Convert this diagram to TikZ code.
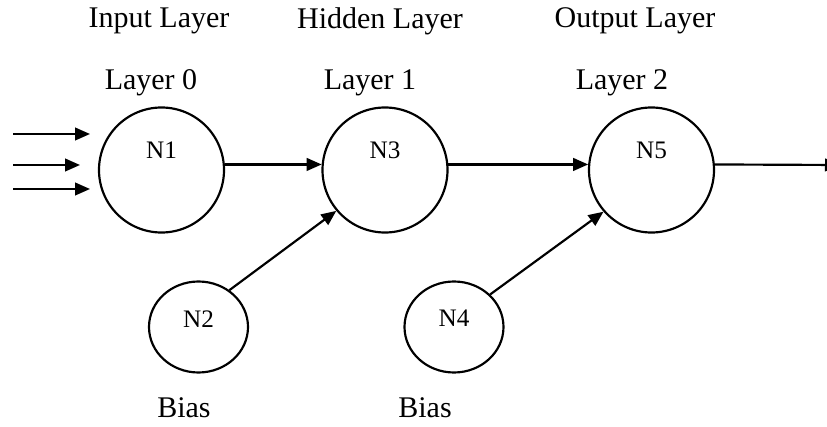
\documentclass[tikz,border=0pt]{standalone}
\usepackage{fontspec}
\setmainfont{Liberation Serif}
\usetikzlibrary{arrows.meta,positioning,shapes.geometric}

\begin{document}
\begin{tikzpicture}
  [
    ->,
    >={Triangle[length=0.45cm,width=0.38cm]},
    line width=0.065cm,
    on grid,
    cell/.style={draw, circle, minimum size=3.75cm, inner sep=0pt},
    bias cell/.style={draw, ellipse, minimum width=2.97cm, minimum height=2.73cm, inner sep=0pt},
    tag/.style={font=\fontsize{21.5}{25}\selectfont},
    heading/.style={font=\fontsize{25.6}{30}\selectfont, inner sep=0pt},
  ]
  \useasboundingbox (0,0) rectangle (24.81,12.78);
  \node [cell, label={[tag, yshift=0.58cm]center:N1}] (N1) at (4.845,7.68) {};
  \node [cell, right=6.705cm of N1, label={[tag, yshift=0.58cm]center:N3}] (N3) {};
  \node [cell, right=7.995cm of N3, label={[tag, yshift=0.58cm]center:N5}] (N5) {};
  \node [bias cell, below right=4.71cm and 1.11cm of N1, label={[tag, yshift=0.25cm]center:N2}] (N2) {};
  \node [bias cell, right=7.665cm of N2, label={[tag, yshift=0.27cm]center:N4}] (N4) {};

  \node [heading] (input) at (4.77,12.15) {Input Layer};
  \node [heading] (hidden) at (11.4,12.15) {Hidden Layer};
  \node [heading] (output) at (19.05,12.15) {Output Layer};
  \node [heading] (layer0) at (4.53,10.305) {Layer 0};
  \node [heading] (layer1) at (11.1,10.305) {Layer 1};
  \node [heading] (layer2) at (18.66,10.305) {Layer 2};
  \node [heading] (bias2) at (5.52,0.555) {Bias};
  \node [heading] (bias4) at (12.75,0.555) {Bias};

  \foreach \y/\tip [count=\i] in {8.76/2.7, 7.83/2.4, 7.11/2.7} {
    \coordinate (src\i) at (0.4,\y);
    \coordinate (dst\i) at (\tip,\y);
    \draw (src\i) -- (dst\i);
  }
  \coordinate (out) at (25.2,7.83);

  \draw (N1.5) -- (N3.175);
  \draw (N3.5) -- (N5.175);
  \draw (N5.5) -- (out);
  \draw (N2.50) -- (N3.220);
  \draw (N4.42) -- (N5.221);
\end{tikzpicture}
\end{document}
